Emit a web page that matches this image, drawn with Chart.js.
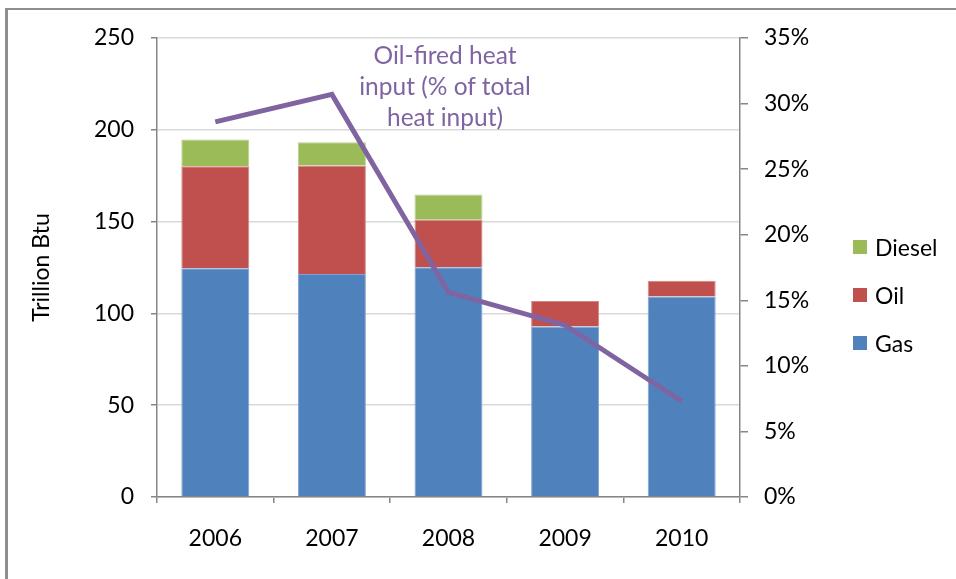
<!DOCTYPE html>
<html>
<head>
<meta charset="utf-8">
<script src="https://cdn.jsdelivr.net/npm/chart.js@4.4.0/dist/chart.umd.min.js"></script>
<style>
    body { margin: 0; background: #fff; }
    #wrap { position: relative; width: 956px; height: 579px; overflow: hidden; font-family: Lato, "Open Sans", sans-serif; }
    #frame { position: absolute; left: 5px; top: 8px; width: 960px; height: 580px; border-left: 3px solid #8e8e8e; border-top: 2px solid #8e8e8e; pointer-events: none; }
    #note { position: absolute; left: 330px; top: 39px; width: 230px; text-align: center; color: #8064A2; font-size: 24.5px; line-height: 31px; }
    #legend { position: absolute; left: 853px; top: 223px; font-size: 23px; color: #000; }
    .item { height: 48px; display: flex; align-items: center; }
    .sw { width: 14px; height: 14px; margin-right: 8px; }
</style>
</head>
<body>
<div id="wrap">
    <canvas id="heatChart" width="956" height="579"></canvas>
    <div id="frame"></div>
    <div id="note">Oil-fired heat<br>input (% of total<br>heat input)</div>
    <div id="legend"></div>
</div>
<script>
// --- data ---
const years = ['2006', '2007', '2008', '2009', '2010'];
const gasValues = [124.6, 121.4, 125.2, 92.9, 109.2];
const oilValues = [55.5, 59.2, 25.8, 13.8, 8.6];
const dieselValues = [14.6, 12.6, 13.8, 0, 0];
const oilSharePct = [28.6, 30.7, 15.6, 13.1, 7.3];

const colors = { gas: '#4F81BD', oil: '#C0504D', diesel: '#9BBB59', line: '#8064A2' };
const axisGray = '#868686';
const gridGray = '#d9d9d9';

document.addEventListener("DOMContentLoaded", function() {
    const ctx = document.getElementById('heatChart').getContext('2d');
    const font = { family: 'Lato, "Open Sans", sans-serif', size: 23 };

    const barCommon = { categoryPercentage: 1, barPercentage: 0.583, borderWidth: 1, order: 1, yAxisID: 'y' };

    new Chart(ctx, {
        type: 'bar',
        data: {
            labels: years,
            datasets: [
                {
                    type: 'line',
                    label: 'Oil-fired heat input',
                    data: oilSharePct,
                    yAxisID: 'y1',
                    borderColor: colors.line,
                    borderWidth: 5,
                    pointRadius: 0,
                    tension: 0,
                    order: 0
                },
                { label: 'Gas', data: gasValues, backgroundColor: colors.gas, borderColor: '#7FA3D2', ...barCommon },
                { label: 'Oil', data: oilValues, backgroundColor: colors.oil, borderColor: '#D58683', ...barCommon },
                { label: 'Diesel', data: dieselValues, backgroundColor: colors.diesel, borderColor: '#B9D08C', ...barCommon }
            ]
        },
        options: {
            responsive: false,
            animation: false,
            layout: { padding: { left: 0, right: 116, top: 38, bottom: 0 } },
            plugins: {
                legend: { display: false },
                tooltip: { enabled: false }
            },
            scales: {
                x: {
                    stacked: true,
                    border: { color: axisGray, width: 1.5 },
                    grid: { offset: true, drawOnChartArea: false, tickLength: 6, color: axisGray, lineWidth: 1.5 },
                    ticks: { font: font, color: '#000', padding: 22 },
                    afterFit: s => { s.height = 82; }
                },
                y: {
                    stacked: true,
                    min: 0, max: 250,
                    border: { color: axisGray, width: 1.5 },
                    grid: { color: gridGray, lineWidth: 1.5, tickColor: axisGray, tickLength: 6 },
                    ticks: { stepSize: 50, font: font, color: '#000', padding: 17 },
                    title: { display: true, text: 'Trillion Btu', font: font, color: '#000', padding: { top: 28, bottom: 0 } },
                    afterFit: s => { s.width = 157; }
                },
                y1: {
                    position: 'right',
                    min: 0, max: 35,
                    border: { color: axisGray, width: 1.5 },
                    grid: { drawOnChartArea: false, color: axisGray, lineWidth: 1.5, tickLength: 8 },
                    ticks: { stepSize: 5, font: font, color: '#000', padding: 16, callback: v => v + '%' },
                    afterFit: s => { s.width = 100; }
                }
            }
        }
    });

    // legend, top item first like the reference
    const legendItems = [['Diesel', colors.diesel], ['Oil', colors.oil], ['Gas', colors.gas]];
    document.getElementById('legend').innerHTML = legendItems.map(([name, c]) =>
        `<div class="item"><span class="sw" style="background:${c}"></span><span>${name}</span></div>`
    ).join('');
});
</script>
</body>
</html>
